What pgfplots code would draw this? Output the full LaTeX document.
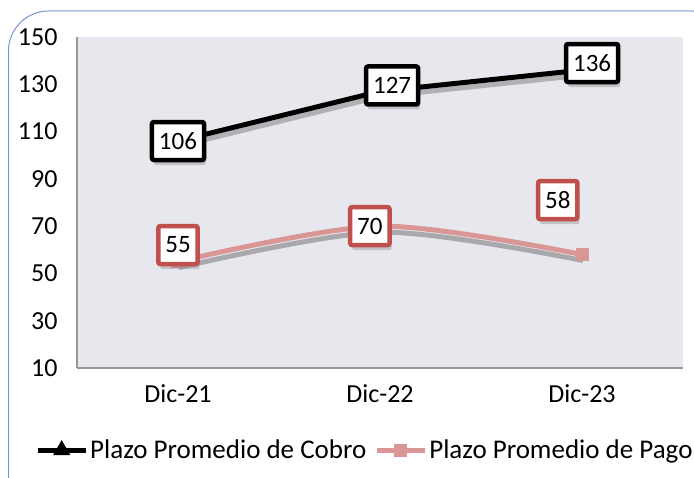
\documentclass[border=0pt]{standalone}
\usepackage{pgfplots}
\pgfplotsset{compat=1.18}
\usepackage{fontspec}
\setmainfont{Carlito}
\usetikzlibrary{shadows}
\definecolor{pago}{RGB}{217,150,148}
\definecolor{pagoedge}{RGB}{192,80,77}
\definecolor{plotbg}{RGB}{231,232,238}
\definecolor{framecol}{RGB}{120,150,205}
\definecolor{axiscol}{RGB}{150,150,150}
\tikzset{numbox/.style={draw, line width=4.5pt, fill=white, rounded corners=2pt,
    inner xsep=7pt, minimum height=38pt, text=black, anchor=center,
    font=\fontsize{25}{29}\selectfont,
    drop shadow={shadow xshift=2pt, shadow yshift=-5pt, opacity=0.35}}}

\begin{document}
\begin{tikzpicture}[x=1pt,y=1pt]
\useasboundingbox (0,0) rectangle (694,478);
\begin{scope}
  \clip (0,0) rectangle (694,478);
  \draw[framecol, line width=1pt, rounded corners=40pt] (8.5,-40) rectangle (730,467);
\end{scope}
\begin{axis}[
  at={(77pt,110pt)}, anchor=south west,
  scale only axis, width=606pt, height=331pt,
  xmin=-0.5, xmax=2.5, ymin=10, ymax=150,
  xtick={0,1,2}, xticklabels={Dic-21, Dic-22, Dic-23},
  ytick={10,30,...,150},
  axis x line*=bottom, axis y line*=left,
  axis line style={axiscol, line width=1.2pt, -},
  major tick length=0pt,
  tick label style={font=\fontsize{26}{30}\selectfont},
  /pgf/number format/assume math mode=true,
  yticklabel style={xshift=-16pt},
  xticklabel style={yshift=-13pt},
  axis background/.style={fill=plotbg},
  legend style={at={(0.475,-0.248)}, anchor=center, draw=none, fill=none,
    legend columns=2, font=\fontsize{27}{31}\selectfont,
    /tikz/every even column/.append style={column sep=6pt}},
  legend image code/.code={
    \draw[#1] (0pt,0pt) -- (48pt,0pt);
    \draw[#1, only marks] plot coordinates {(24pt,0pt)};},
  clip=false,
]
% shadows of lines
\addplot[forget plot, black!70, opacity=0.35, line width=5pt, yshift=-5pt, xshift=1pt]
  coordinates {(0,106) (1,127) (2,136)};
\addplot[forget plot, black!70, opacity=0.4, line width=5pt, smooth, yshift=-6pt, xshift=1pt]
  coordinates {(0,55) (1,70) (2,58)};
% series
\addplot[black, line width=5pt, mark=triangle*, mark size=5pt, mark options={solid}]
  coordinates {(0,106) (1,127) (2,136)};
\addplot[pago, line width=5pt, smooth, mark=square*, mark size=4pt, mark options={solid}]
  coordinates {(0,55) (1,70) (2,58)};
\legend{Plazo Promedio de Cobro, Plazo Promedio de Pago}
% data labels
\addplot[forget plot, draw=none, nodes near coords, point meta=explicit symbolic,
  nodes near coords style={numbox, draw=black}]
  coordinates {(0,106)[106] (1.06,129.5)[127] (2.05,139)[136]};
\addplot[forget plot, draw=none, nodes near coords, point meta=explicit symbolic,
  nodes near coords style={numbox, draw=pagoedge}]
  coordinates {(0,62)[55] (0.95,70)[70] (1.88,81)[58]};
\end{axis}
\end{tikzpicture}
\end{document}
